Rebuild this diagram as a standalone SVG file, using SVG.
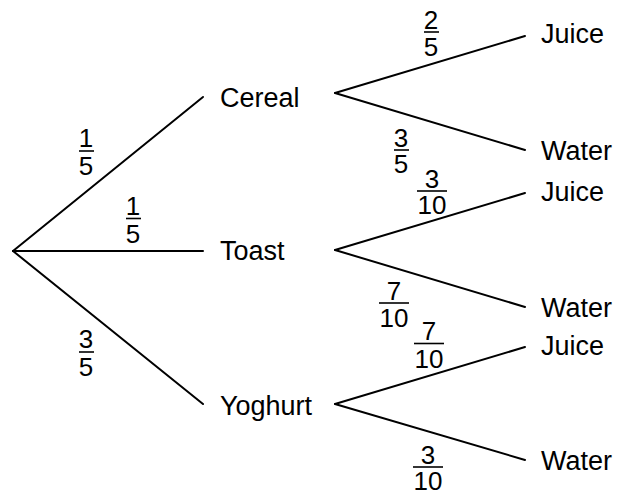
<svg xmlns="http://www.w3.org/2000/svg" width="622" height="495" viewBox="0 0 622 495">
  <style>
    .edge { stroke: #000; stroke-width: 2; fill: none; stroke-linecap: round; }
    .label { font-family: "Liberation Sans", Arial, sans-serif; font-size: 27px; fill: #000; }
    .num { font-family: "Liberation Sans", Arial, sans-serif; font-size: 26px; fill: #000; text-anchor: middle; }
    .bar { stroke: #000; stroke-width: 1.6; }
  </style>
  <rect width="622" height="495" fill="#fff"/>

  <!-- branches -->
  <g id="connectors">
    <line class="edge" x1="13" y1="251" x2="203" y2="97"/>
    <line class="edge" x1="13" y1="251" x2="203" y2="251"/>
    <line class="edge" x1="13" y1="251" x2="203" y2="404"/>
    <line class="edge" x1="335" y1="93" x2="525" y2="36"/>
    <line class="edge" x1="335" y1="93" x2="525" y2="150"/>
    <line class="edge" x1="335" y1="250" x2="525" y2="193"/>
    <line class="edge" x1="335" y1="250" x2="525" y2="307"/>
    <line class="edge" x1="335" y1="404" x2="525" y2="347"/>
    <line class="edge" x1="335" y1="404" x2="525" y2="460"/>
  </g>

  <!-- probabilities: numerator, bar, denominator -->
  <g id="probabilities">
    <g id="p-cereal"><text class="num" x="86" y="147">1</text><line class="bar" x1="79" y1="151" x2="94" y2="151"/><text class="num" x="86" y="175">5</text></g>
    <g id="p-toast"><text class="num" x="133" y="214.5">1</text><line class="bar" x1="126" y1="218.5" x2="141" y2="218.5"/><text class="num" x="133" y="242.5">5</text></g>
    <g id="p-yoghurt"><text class="num" x="86" y="348">3</text><line class="bar" x1="79" y1="352" x2="94" y2="352"/><text class="num" x="86" y="376">5</text></g>
    <g id="p-cereal-juice"><text class="num" x="431" y="28.5">2</text><line class="bar" x1="424" y1="32" x2="439" y2="32"/><text class="num" x="431" y="56">5</text></g>
    <g id="p-cereal-water"><text class="num" x="401" y="146.5">3</text><line class="bar" x1="394" y1="150" x2="409" y2="150"/><text class="num" x="401" y="173">5</text></g>
    <g id="p-toast-juice"><text class="num" x="432" y="187.5">3</text><line class="bar" x1="417" y1="191" x2="447" y2="191"/><text class="num" x="432" y="214">10</text></g>
    <g id="p-toast-water"><text class="num" x="394" y="299.5">7</text><line class="bar" x1="379" y1="303" x2="409" y2="303"/><text class="num" x="394" y="326.5">10</text></g>
    <g id="p-yoghurt-juice"><text class="num" x="429" y="340">7</text><line class="bar" x1="414" y1="343.5" x2="444" y2="343.5"/><text class="num" x="429" y="368">10</text></g>
    <g id="p-yoghurt-water"><text class="num" x="428" y="463.5">3</text><line class="bar" x1="413" y1="467" x2="443" y2="467"/><text class="num" x="428" y="490">10</text></g>
  </g>

  <!-- outcomes -->
  <g id="cereal"><text class="label" x="220" y="107">Cereal</text></g>
  <g id="toast"><text class="label" x="220" y="260">Toast</text></g>
  <g id="yoghurt"><text class="label" x="220" y="415">Yoghurt</text></g>
  <g id="cereal-juice"><text class="label" x="541" y="43">Juice</text></g>
  <g id="cereal-water"><text class="label" x="541" y="160">Water</text></g>
  <g id="toast-juice"><text class="label" x="541" y="201">Juice</text></g>
  <g id="toast-water"><text class="label" x="541" y="317">Water</text></g>
  <g id="yoghurt-juice"><text class="label" x="541" y="355">Juice</text></g>
  <g id="yoghurt-water"><text class="label" x="541" y="470">Water</text></g>
</svg>
